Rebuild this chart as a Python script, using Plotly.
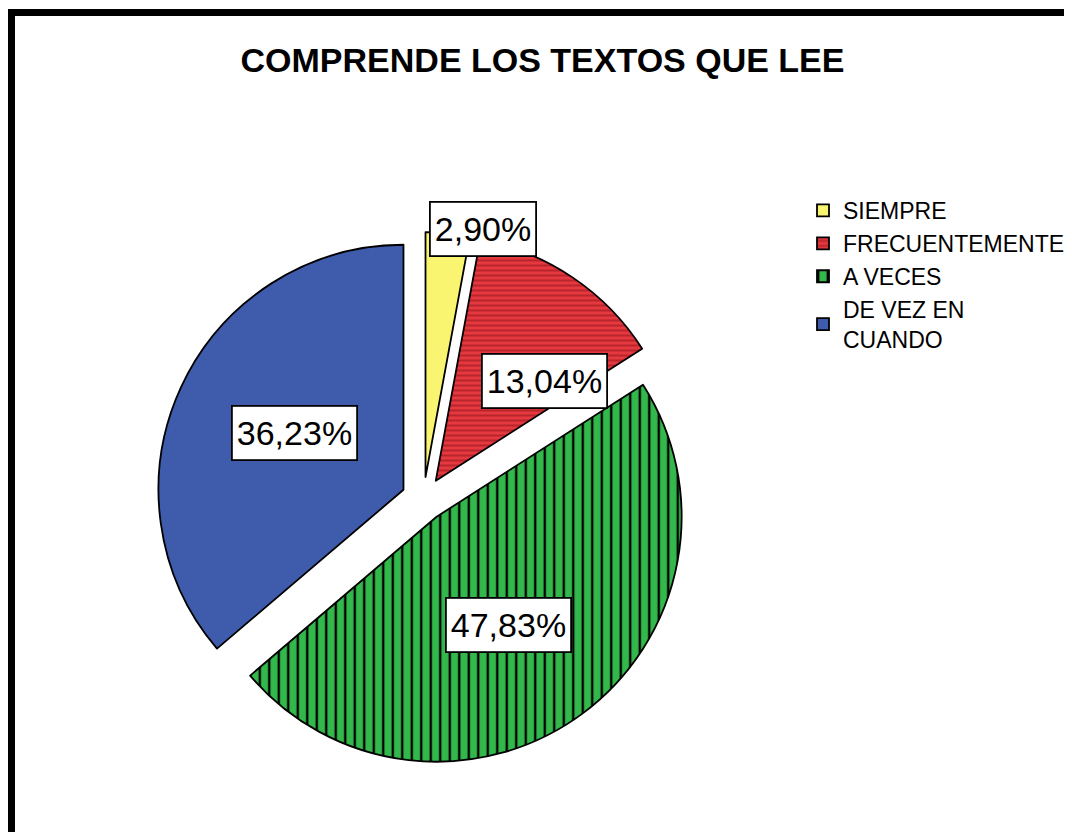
import math
import plotly.graph_objects as go

labels = ["SIEMPRE", "FRECUENTEMENTE", "A VECES", "DE VEZ EN<br>CUANDO"]
values = [2.90, 13.04, 47.83, 36.23]
title_text = "COMPRENDE LOS TEXTOS QUE LEE"

colors = ["#faf570", "#e5383f", "#33b94b", "#3f5bab"]
pat_shapes = ["", "-", "|", ""]
pat_fg = ["#faf570", "#b8262c", "#000000", "#3f5bab"]
pat_size = [8, 5, 9.5, 8]
pat_sol = [0.3, 0.4, 0.25, 0.3]

# page body has an 8px margin: size figure to fit the window
W, H = 1064, 824
FONT = "Liberation Sans, Arial, sans-serif"
pull = 0.09
cx_px, cy_px, r_px = 415.5, 491.0, 245.0
half = r_px * (1 + pull)
dom_x = [(cx_px - half) / W, (cx_px + half) / W]
dom_y = [1 - (cy_px + half) / H, 1 - (cy_px - half) / H]

fig = go.Figure(go.Pie(
    labels=labels, values=values, sort=False, direction="clockwise",
    rotation=0, pull=[pull] * len(values), textinfo="none", hoverinfo="label+percent",
    marker=dict(colors=colors, line=dict(color="black", width=1.8),
                pattern=dict(shape=pat_shapes, fgcolor=pat_fg, bgcolor=colors,
                             size=pat_size, solidity=pat_sol)),
    domain=dict(x=dom_x, y=dom_y),
))

# label boxes placed from slice mid-angles
ang_off = [7.2, 12.0, 2.5, 2.2]
rad_fac = [1.13, 0.69, 0.62, 0.59]
total = sum(values)
cum = 0
for i, v in enumerate(values):
    mid = (cum + v / 2) / total * 360
    cum += v
    a = math.radians(mid + ang_off[i])
    d = r_px * rad_fac[i]
    px = cx_px + d * math.sin(a)
    py = cy_px - d * math.cos(a)
    fig.add_annotation(
        x=px / W, y=1 - py / H, xref="paper", yref="paper",
        xanchor="center", yanchor="middle",
        text=f"{v:.2f}".replace(".", ",") + "%", showarrow=False,
        font=dict(family=FONT, size=34, color="black"),
        height=44, valign="middle",
        bgcolor="white", bordercolor="black", borderwidth=1.8, borderpad=4,
    )

# frame (top and left thick borders)
fig.add_shape(type="line", xref="paper", yref="paper", x0=0, x1=1,
              y0=1 - 4.5 / H, y1=1 - 4.5 / H, line=dict(color="black", width=7))
fig.add_shape(type="line", xref="paper", yref="paper", x0=3.5 / W, x1=3.5 / W,
              y0=0, y1=1 - 1 / H, line=dict(color="black", width=7))

fig.update_layout(
    width=W, height=H, margin=dict(l=0, r=0, t=0, b=0),
    paper_bgcolor="white", plot_bgcolor="white",
    title=dict(text=f"<b>{title_text}</b>", x=534.5 / W, y=1 - 52 / H,
               xanchor="center", yanchor="middle",
               font=dict(family=FONT, size=34, color="black")),
    legend=dict(x=795 / W, y=1 - 181 / H, xanchor="left", yanchor="top",
                font=dict(family=FONT, size=23, color="black"),
                bgcolor="rgba(0,0,0,0)", traceorder="normal"),
    font=dict(family=FONT),
)

fig.write_html("out.html")
